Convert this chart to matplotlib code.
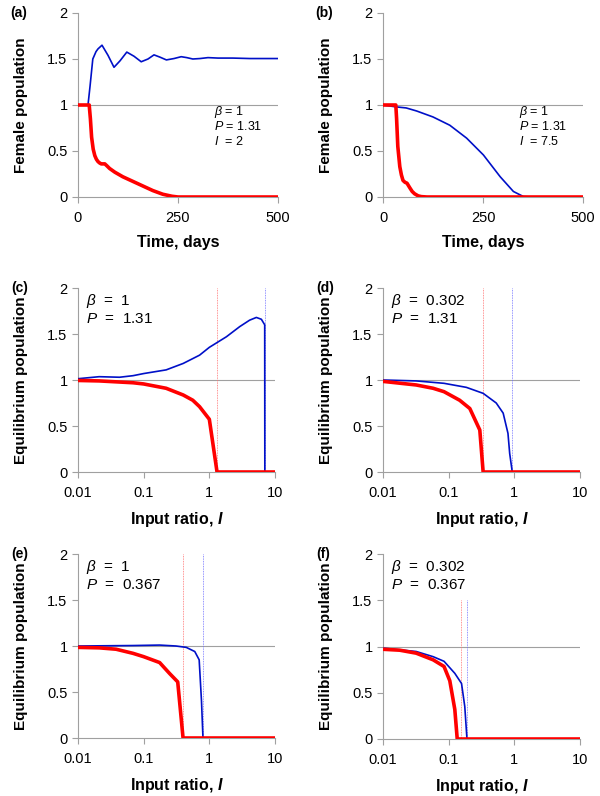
import numpy as np
import matplotlib
matplotlib.use("Agg")
import matplotlib.pyplot as plt

plt.rcParams['font.family'] = ['Liberation Sans', 'DejaVu Sans']
plt.rcParams['mathtext.fontset'] = 'custom'
plt.rcParams['mathtext.rm'] = 'Liberation Sans'
plt.rcParams['mathtext.it'] = 'Liberation Sans:italic'
plt.rcParams['mathtext.bf'] = 'Liberation Sans:bold'
plt.rcParams['mathtext.bfit'] = 'Liberation Sans:italic:bold'

# (a) time series, I = 2
a_t_blue = [25, 30, 37, 45, 50, 60, 75, 90, 105, 122, 140, 158, 175, 190, 205, 221, 240, 258, 272, 287, 305, 325, 350, 387, 430, 500]
a_blue = [1.0, 1.2, 1.5, 1.58, 1.61, 1.65, 1.54, 1.41, 1.48, 1.575, 1.53, 1.47, 1.50, 1.545, 1.52, 1.49, 1.505, 1.525, 1.515, 1.50, 1.505, 1.515, 1.51, 1.51, 1.505, 1.505]
a_t_red = [0, 28, 31, 34, 38, 42, 46, 50, 54, 58, 62, 67, 72, 79, 92, 112, 137, 162, 187, 212, 235, 250, 500]
a_red = [1, 1, 0.85, 0.65, 0.52, 0.45, 0.41, 0.385, 0.37, 0.36, 0.36, 0.36, 0.34, 0.31, 0.27, 0.22, 0.17, 0.12, 0.07, 0.03, 0.008, 0, 0]

# (b) time series, I = 7.5
b_t_blue = [0, 32, 58, 84, 125, 167, 209, 251, 293, 326, 351, 370, 500]
b_blue = [1, 0.98, 0.968, 0.935, 0.87, 0.78, 0.64, 0.457, 0.22, 0.06, 0.005, 0, 0]
b_t_red = [0, 32, 34, 37, 42, 46, 50, 55, 60, 67, 73, 79, 88, 96, 110, 500]
b_red = [1, 1, 0.85, 0.55, 0.33, 0.24, 0.18, 0.16, 0.15, 0.1, 0.06, 0.035, 0.012, 0.004, 0, 0]

# (c)-(f) equilibrium vs input ratio
c_i_blue = [0.01, 0.021, 0.043, 0.069, 0.1, 0.22, 0.40, 0.71, 1.0, 1.82, 2.9, 4.1, 5.2, 6.2, 6.97, 7.0, 10]
c_blue = [1.014, 1.036, 1.03, 1.047, 1.07, 1.11, 1.18, 1.27, 1.355, 1.47, 1.58, 1.65, 1.68, 1.66, 1.60, 0, 0]
c_i_red = [0.01, 0.021, 0.069, 0.1, 0.22, 0.40, 0.56, 0.71, 1.0, 1.31, 10]
c_red = [0.995, 0.99, 0.97, 0.957, 0.91, 0.837, 0.78, 0.71, 0.573, 0, 0]

d_i_blue = [0.01, 0.032, 0.085, 0.186, 0.335, 0.53, 0.676, 0.80, 0.85, 0.93, 10]
d_blue = [1.0, 0.99, 0.964, 0.92, 0.855, 0.75, 0.64, 0.42, 0.2, 0, 0]
d_i_red = [0.01, 0.032, 0.058, 0.085, 0.147, 0.21, 0.298, 0.335, 10]
d_red = [0.985, 0.946, 0.91, 0.873, 0.78, 0.69, 0.456, 0, 0]

e_i_blue = [0.01, 0.069, 0.175, 0.31, 0.445, 0.6, 0.70, 0.76, 0.80, 10]
e_blue = [1.0, 1.005, 1.01, 1.0, 0.985, 0.94, 0.85, 0.4, 0, 0]
e_i_red = [0.01, 0.021, 0.038, 0.069, 0.1, 0.175, 0.249, 0.33, 0.398, 10]
e_red = [0.985, 0.98, 0.965, 0.92, 0.884, 0.82, 0.70, 0.61, 0, 0]

f_i_blue = [0.01, 0.032, 0.058, 0.085, 0.124, 0.157, 0.176, 0.19, 10]
f_blue = [0.982, 0.946, 0.89, 0.84, 0.71, 0.60, 0.35, 0, 0]
f_i_red = [0.01, 0.018, 0.032, 0.058, 0.085, 0.104, 0.124, 0.135, 10]
f_red = [0.97, 0.96, 0.928, 0.856, 0.784, 0.63, 0.32, 0, 0]

# threshold markers (red, blue)
c_thr = [1.31, 7.0]
d_thr = [0.336, 0.93]
e_thr = [0.40, 0.81]
f_thr = [0.155, 0.19]

BLUE = '#0010c8'
RED = '#ff0000'
GRAY = '#a0a0a0'

W, H = 600, 796
fig = plt.figure(figsize=(W / 100, H / 100), dpi=100)


def make_ax(l, r, t, b):
    return fig.add_axes([l / W, 1 - b / H, (r - l) / W, (b - t) / H])


def style(ax, ylabel, panel):
    for s in ['top', 'right']:
        ax.spines[s].set_visible(False)
    for s in ['left', 'bottom']:
        ax.spines[s].set_color(GRAY)
        ax.spines[s].set_linewidth(0.8)
    ax.tick_params(colors=GRAY, labelcolor='black', labelsize=10.5, length=4, width=0.8)
    ax.tick_params(axis='x', pad=6)
    ax.tick_params(which='minor', length=0)
    ax.set_ylim(0, 2)
    ax.set_yticks([0, 0.5, 1, 1.5, 2])
    ax.set_yticklabels(['0', '0.5', '1', '1.5', '2'])
    ax.axhline(1, color=GRAY, lw=0.8, zorder=1)
    ax.set_ylabel(ylabel, fontsize=11, fontweight='bold', labelpad=14)
    ax.text(-0.34, 1.0, panel, transform=ax.transAxes, fontsize=10,
            fontweight='bold', va='center', ha='left')


# time panels
for (l, r), tb, yb, tr, yr, lab, ival in [
        ((78, 278), a_t_blue, a_blue, a_t_red, a_red, '(a)', '2'),
        ((383, 583), b_t_blue, b_blue, b_t_red, b_red, '(b)', '7.5')]:
    ax = make_ax(l, r, 13, 197)
    style(ax, 'Female population', lab)
    ax.plot(tb, yb, color=BLUE, lw=1.2, zorder=3)
    ax.plot(tr, yr, color=RED, lw=2.6, zorder=4)
    ax.set_xlim(0, 500)
    ax.set_xticks([0, 250, 500])
    ax.set_xlabel('Time, days', fontsize=11.5, fontweight='bold', labelpad=7)
    ax.text(0.68, 0.445, r'$\beta$ = 1', transform=ax.transAxes, fontsize=9)
    ax.text(0.68, 0.365, r'$P$ = 1.31', transform=ax.transAxes, fontsize=9)
    ax.text(0.68, 0.285, r'$I$  = ' + ival, transform=ax.transAxes, fontsize=9)

# equilibrium panels
eq = [
    ((78, 275), (288, 472), c_i_blue, c_blue, c_i_red, c_red, c_thr, 2.0, '(c)', '1', '1.31'),
    ((383, 580), (288, 472), d_i_blue, d_blue, d_i_red, d_red, d_thr, 2.0, '(d)', '0.302', '1.31'),
    ((78, 275), (554, 738), e_i_blue, e_blue, e_i_red, e_red, e_thr, 2.0, '(e)', '1', '0.367'),
    ((383, 580), (554, 739), f_i_blue, f_blue, f_i_red, f_red, f_thr, 1.5, '(f)', '0.302', '0.367'),
]
for (l, r), (t, b), ib, yb, ir, yr, thr, top, lab, beta, p in eq:
    ax = make_ax(l, r, t, b)
    style(ax, 'Equilibrium population', lab)
    ax.set_xscale('log')
    ax.set_xlim(0.01, 10)
    ax.set_xticks([0.01, 0.1, 1, 10])
    ax.set_xticklabels(['0.01', '0.1', '1', '10'])
    ax.vlines(thr[0], 0, top, color='#ff7070', lw=0.6, linestyles=(0, (1, 1)), zorder=2)
    ax.vlines(thr[1], 0, top, color='#7070ff', lw=0.6, linestyles=(0, (1, 1)), zorder=2)
    ax.plot(ib, yb, color=BLUE, lw=1.2, zorder=3)
    ax.plot(ir, yr, color=RED, lw=2.6, zorder=4)
    ax.set_xlabel(r'Input ratio, $\mathbfit{I}$', fontsize=11.5, fontweight='bold', labelpad=7)
    ax.text(0.04, 0.93, r'$\beta$  =  ' + beta, transform=ax.transAxes, fontsize=11, va='center')
    ax.text(0.04, 0.83, r'$P$  =  ' + p, transform=ax.transAxes, fontsize=11, va='center')

fig.savefig('out.png', dpi=100)
